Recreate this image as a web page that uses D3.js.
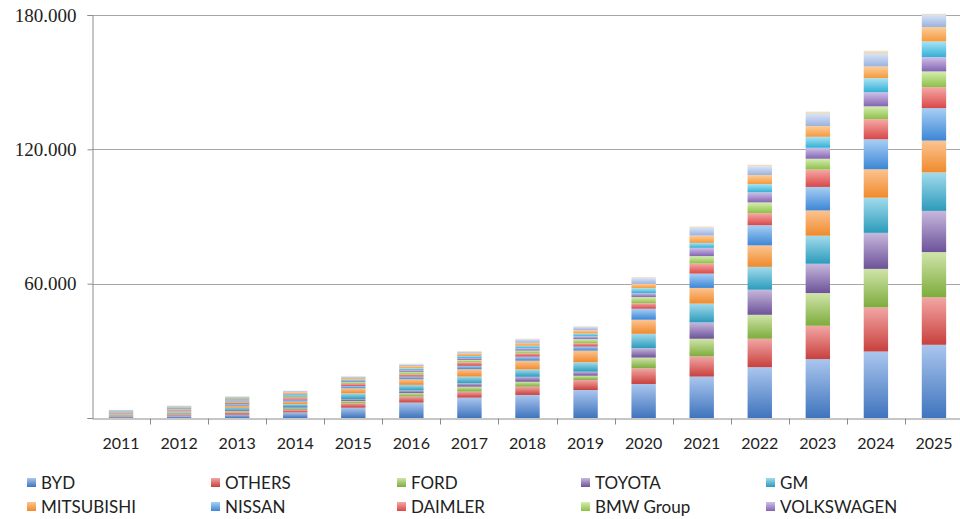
<!DOCTYPE html>
<html>
<head>
<meta charset="utf-8">
<script src="https://cdn.jsdelivr.net/npm/d3@7"></script>
<style>
  html, body { margin: 0; padding: 0; background: #fff; }
  svg { display: block; }
</style>
</head>
<body>
<svg id="chart" width="960" height="519"></svg>
<script>
const years = ['2011','2012','2013','2014','2015','2016','2017','2018','2019','2020','2021','2022','2023','2024','2025'];
const yTicks = [60000, 120000, 180000];
const yTickLabels = ['60.000', '120.000', '180.000'];

const seriesNames = ['BYD','OTHERS','FORD','TOYOTA','GM','MITSUBISHI','NISSAN','DAIMLER','BMW Group','VOLKSWAGEN','Series 11','Series 12','Series 13','Series 14'];
const legendNames = ['BYD','OTHERS','FORD','TOYOTA','GM','MITSUBISHI','NISSAN','DAIMLER','BMW Group','VOLKSWAGEN'];

const BYD        = [500,800,1500,2500,4600,6900,9100,10300,12500,15200,18500,22700,26300,29700,32700];
const OTHERS     = [300,500,1000,1100,2000,2700,2700,3700,4500,7000,9000,12700,14900,19700,21200];
const FORD       = [250,350,600,700,1000,1500,2200,2200,1900,4800,7900,10700,14600,17200,20200];
const TOYOTA     = [200,350,600,600,900,1200,1500,2200,1800,4200,7300,11200,13100,16100,18400];
const GM         = [300,500,900,1300,2500,2500,3000,3300,4200,6400,8400,10200,12500,15700,17200];
const MITSUBISHI = [300,500,900,1200,2300,2500,3300,3900,5200,6300,7000,9600,11300,12700,14200];
const NISSAN     = [250,400,700,800,1000,1200,1500,1800,1800,4900,6400,9000,10500,13400,14500];
const DAIMLER    = [250,350,600,700,900,1000,1600,1500,1500,2500,4500,5400,7800,9000,9400];
const BMW        = [250,350,600,700,800,1100,1000,1200,1800,2700,3300,4800,4800,5700,7000];
const VOLKSWAGEN = [250,350,550,600,700,800,900,1000,1300,1800,3700,4500,4900,6300,6400];
const S11        = [250,350,550,600,600,800,900,1200,1200,2200,2200,3700,4900,6300,7000];
const S12        = [250,350,550,700,700,1000,1200,1300,1500,1900,3300,4000,4800,5200,6400];
const S13        = [250,350,550,600,500,800,700,1600,1500,2600,3600,3900,5500,5700,5500];
const S14        = [100,100,150,200,200,300,300,300,300,400,500,800,1000,1400,500];

const seriesValues = [BYD, OTHERS, FORD, TOYOTA, GM, MITSUBISHI, NISSAN, DAIMLER, BMW, VOLKSWAGEN, S11, S12, S13, S14];

// gradient colours [top (light), bottom (dark)]
const colorPairs = [
  ['#aac6ee','#3f74bd'],
  ['#f2a6a4','#c8403d'],
  ['#d0e4a9','#7dac3c'],
  ['#c7b8dc','#6c529a'],
  ['#a2dbec','#2b9bbb'],
  ['#fcc491','#ef8a2c'],
  ['#a8cff4','#3c86d6'],
  ['#f6a9a7','#d84848'],
  ['#d6edb0','#8cc048'],
  ['#cfc0e6','#8464b4'],
  ['#a8e3f4','#32b0d6'],
  ['#fdcd98','#f49a3e'],
  ['#d8e3f6','#9bb2df'],
  ['#f3ead6','#e2d2b2']
];

const rows = years.map((yr, i) => {
  const r = { year: yr };
  seriesNames.forEach((s, k) => { r[s] = seriesValues[k][i]; });
  return r;
});

const svg = d3.select('#chart');
const defs = svg.append('defs');
colorPairs.forEach((c, i) => {
  const g = defs.append('linearGradient').attr('id', 'g' + i)
    .attr('x1', 0).attr('y1', 0).attr('x2', 0).attr('y2', 1);
  g.append('stop').attr('offset', '0%').attr('stop-color', c[0]);
  g.append('stop').attr('offset', '100%').attr('stop-color', c[1]);
});

const mLeft = 92, mRight = 963, mTop = 15, mBottom = 418;

const x = d3.scaleBand().domain(years).range([mLeft, mRight]).padding(0);
const y = d3.scaleLinear().domain([0, 180000]).range([mBottom, mTop]);

// gridlines
svg.append('g').selectAll('line').data(yTicks).join('line')
  .attr('x1', mLeft).attr('x2', 960)
  .attr('y1', d => Math.round(y(d)) + 0.5).attr('y2', d => Math.round(y(d)) + 0.5)
  .attr('stroke', '#a6a6a6').attr('stroke-width', 1);

// y axis
const yAxis = d3.axisLeft(y).tickValues([0, ...yTicks]).tickSize(5)
  .tickFormat(d => { const i = yTicks.indexOf(d); return i >= 0 ? yTickLabels[i] : ''; });
const yg = svg.append('g').attr('transform', `translate(${mLeft + 0.5},0)`).call(yAxis);
yg.select('.domain').attr('stroke', '#8c8c8c');
yg.selectAll('.tick line').attr('stroke', '#8c8c8c');
yg.selectAll('.tick text')
  .attr('x', -16)
  .attr('font-family', '"Liberation Serif", "Times New Roman", serif')
  .attr('font-size', 19)
  .attr('fill', '#222');

// stacked bars
const stack = d3.stack().keys(seriesNames);
const stacked = stack(rows);
const barW = x.bandwidth() * 0.42;

svg.append('g').selectAll('g').data(stacked).join('g')
  .attr('fill', (d, i) => `url(#g${i})`)
  .selectAll('rect').data(d => d).join('rect')
  .attr('x', d => x(d.data.year) + (x.bandwidth() - barW) / 2)
  .attr('width', barW)
  .attr('y', d => y(d[1]))
  .attr('height', d => Math.max(0, y(d[0]) - y(d[1])));

// x axis
const xAxis = d3.axisBottom(x).tickSize(0).tickSizeOuter(0);
const xg = svg.append('g').attr('transform', `translate(0,${mBottom + 0.5})`).call(xAxis);
xg.select('.domain').attr('stroke', '#8c8c8c');
xg.selectAll('.tick text')
  .attr('dy', 0).attr('y', 30)
  .attr('font-family', 'Lato, "Open Sans", sans-serif')
  .attr('font-size', 16)
  .attr('fill', '#222');
// boundary tick marks
xg.append('g').selectAll('line').data(years.slice(1)).join('line')
  .attr('x1', d => Math.round(x(d)) + 0.5).attr('x2', d => Math.round(x(d)) + 0.5)
  .attr('y1', 0).attr('y2', 6)
  .attr('stroke', '#8c8c8c');

// legend
const colX = [27, 211, 397, 581, 766];
const rowY = [483, 507];
const lg = svg.append('g');
legendNames.forEach((n, i) => {
  const cx = colX[i % 5], cy = rowY[Math.floor(i / 5)];
  lg.append('rect').attr('x', cx).attr('y', cy - 5).attr('width', 9).attr('height', 9)
    .attr('fill', `url(#g${i})`);
  lg.append('text').attr('x', cx + 14).attr('y', cy).attr('dy', '0.35em')
    .attr('font-family', 'Lato, "Open Sans", sans-serif')
    .attr('font-size', 17).attr('fill', '#222').text(n);
});
</script>
</body>
</html>
